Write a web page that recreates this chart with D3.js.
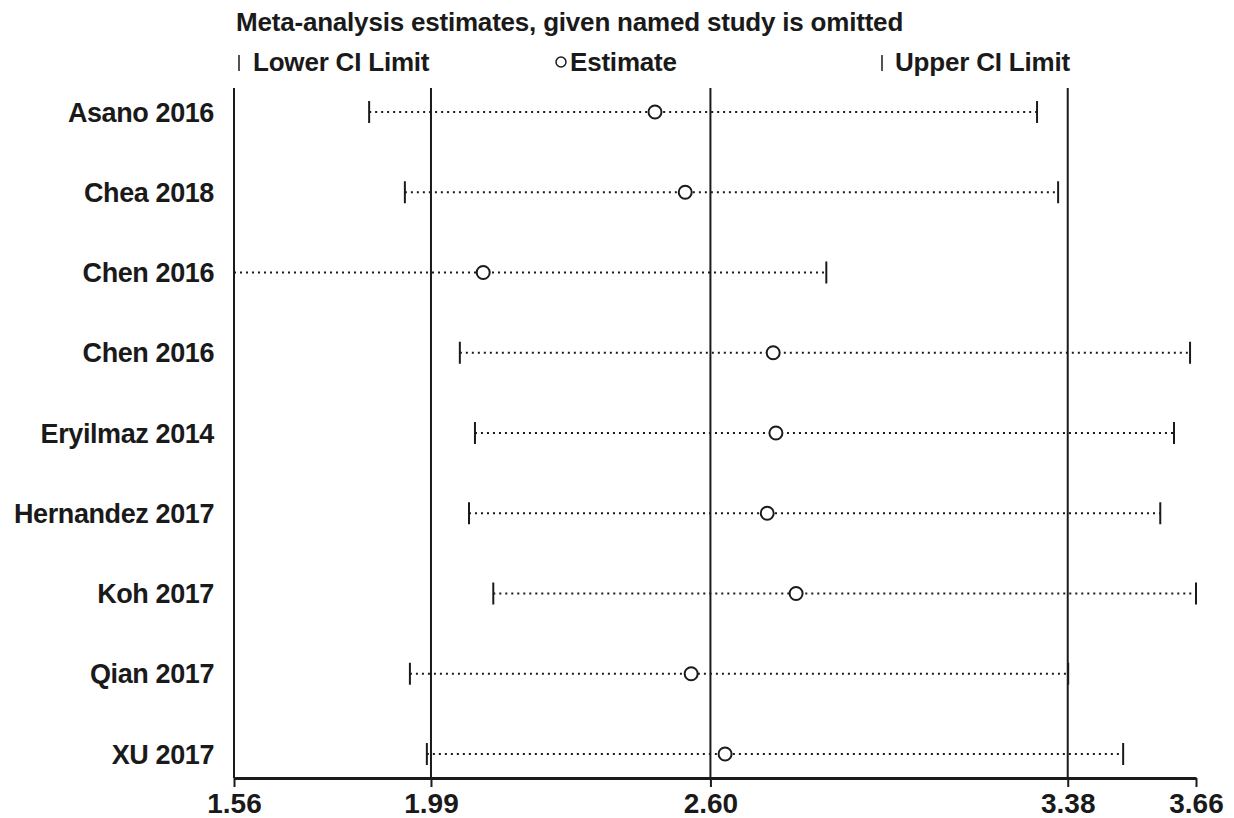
<!DOCTYPE html>
<html>
<head>
<meta charset="utf-8">
<script src="https://cdn.jsdelivr.net/npm/d3@7"></script>
<style>
  body { margin: 0; background: #fff; }
  svg text { font-family: "Liberation Sans", Arial, sans-serif; font-weight: bold; fill: #1a1a1a; }
</style>
</head>
<body>
<div id="chart"></div>
<script>
// omitted-study labels, top to bottom
const studies = ['Asano 2016', 'Chea 2018', 'Chen 2016', 'Chen 2016', 'Eryilmaz 2014',
  'Hernandez 2017', 'Koh 2017', 'Qian 2017', 'XU 2017'];
const lowerCI = [1.855, 1.933, 1.56, 2.053, 2.086, 2.073, 2.126, 1.944, 1.981];
const estimate = [2.479, 2.545, 2.104, 2.737, 2.743, 2.724, 2.787, 2.558, 2.632];
const upperCI = [3.313, 3.359, 2.853, 3.647, 3.612, 3.582, 3.660, 3.381, 3.501];

const tickValues = [1.56, 1.99, 2.60, 3.38, 3.66];
const refLines = [1.99, 2.60, 3.38]; // overall CI low, estimate, CI high

const width = 1234, height = 818;
const ink = '#1a1a1a';

const svg = d3.select('#chart').append('svg')
  .attr('width', width)
  .attr('height', height);

const x = d3.scaleLinear().domain([1.56, 3.66]).range([234, 1196]);
const y = d3.scalePoint().domain(d3.range(studies.length)).range([112, 754]);
const plotTop = 88, plotBottom = 778;

// title + legend
svg.append('text')
  .attr('x', 236).attr('y', 31)
  .style('font-size', '26px')
  .style('letter-spacing', '-0.2px')
  .text('Meta-analysis estimates, given named study is omitted');

const legend = svg.append('g');
const legendText = (tx, label) => legend.append('text')
  .attr('x', tx).attr('y', 71)
  .style('font-size', '26px')
  .style('letter-spacing', '-0.2px')
  .text(label);

legend.append('line').attr('x1', 239).attr('x2', 239).attr('y1', 55).attr('y2', 71)
  .attr('stroke', ink).attr('stroke-width', 1.5);
legendText(253, 'Lower CI Limit');
legend.append('circle').attr('cx', 561).attr('cy', 62).attr('r', 5)
  .attr('fill', 'none').attr('stroke', ink).attr('stroke-width', 1.5);
legendText(570, 'Estimate');
legend.append('line').attr('x1', 882).attr('x2', 882).attr('y1', 55).attr('y2', 71)
  .attr('stroke', ink).attr('stroke-width', 1.5);
legendText(895, 'Upper CI Limit');

// left frame line
svg.append('line')
  .attr('x1', x(1.56)).attr('x2', x(1.56))
  .attr('y1', plotTop).attr('y2', plotBottom)
  .attr('stroke', ink).attr('stroke-width', 2);

// reference lines
svg.selectAll('.ref').data(refLines).enter().append('line')
  .attr('class', 'ref')
  .attr('x1', d => x(d)).attr('x2', d => x(d))
  .attr('y1', plotTop).attr('y2', plotBottom)
  .attr('stroke', ink).attr('stroke-width', 2);

// x axis
const xAxis = svg.append('g')
  .attr('transform', `translate(0,${plotBottom})`)
  .call(d3.axisBottom(x).tickValues(tickValues).tickFormat(d3.format('.2f'))
    .tickSize(9).tickPadding(6).tickSizeOuter(0));
xAxis.select('.domain').attr('stroke', ink).attr('stroke-width', 3);
xAxis.selectAll('.tick line').attr('stroke', ink).attr('stroke-width', 2);
xAxis.selectAll('.tick text')
  .style('font-size', '28px')
  .style('font-family', '"Liberation Sans", Arial, sans-serif')
  .style('font-weight', 'bold')
  .attr('fill', ink);

// study labels
svg.selectAll('.lab').data(studies).enter().append('text')
  .attr('class', 'lab')
  .attr('x', 214)
  .attr('y', (d, i) => y(i))
  .attr('dy', '0.36em')
  .attr('text-anchor', 'end')
  .style('font-size', '27px')
  .style('letter-spacing', '-0.4px')
  .text(d => d);

// rows
const rows = svg.selectAll('.row').data(studies).enter().append('g').attr('class', 'row');

rows.append('line')
  .attr('x1', (d, i) => x(lowerCI[i]))
  .attr('x2', (d, i) => x(upperCI[i]))
  .attr('y1', (d, i) => y(i)).attr('y2', (d, i) => y(i))
  .attr('stroke', ink).attr('stroke-width', 2)
  .attr('stroke-dasharray', '2,4');

rows.append('line')
  .attr('x1', (d, i) => x(lowerCI[i])).attr('x2', (d, i) => x(lowerCI[i]))
  .attr('y1', (d, i) => y(i) - 11).attr('y2', (d, i) => y(i) + 11)
  .attr('stroke', ink).attr('stroke-width', 2);

rows.append('line')
  .attr('x1', (d, i) => x(upperCI[i])).attr('x2', (d, i) => x(upperCI[i]))
  .attr('y1', (d, i) => y(i) - 11).attr('y2', (d, i) => y(i) + 11)
  .attr('stroke', ink).attr('stroke-width', 2);

rows.append('circle')
  .attr('cx', (d, i) => x(estimate[i]))
  .attr('cy', (d, i) => y(i))
  .attr('r', 6.5)
  .attr('fill', '#fff')
  .attr('stroke', ink).attr('stroke-width', 2);
</script>
</body>
</html>
